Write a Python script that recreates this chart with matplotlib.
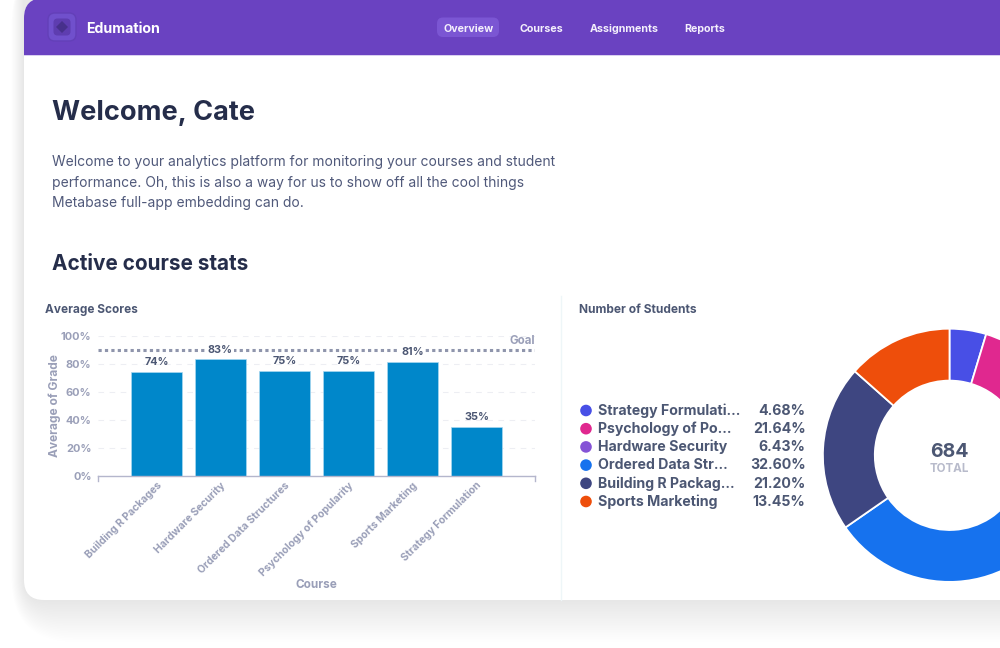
import matplotlib
matplotlib.use('Agg')
import matplotlib.pyplot as plt
from matplotlib.patches import FancyBboxPatch, Rectangle, Circle, RegularPolygon

plt.rcParams['font.family'] = ['Inter', 'DejaVu Sans']

# Bar chart
courses = ['Building R Packages', 'Hardware Security', 'Ordered Data Structures',
           'Psychology of Popularity', 'Sports Marketing', 'Strategy Formulation']
scores = [74, 83, 75, 75, 81, 35]
y_ticks = [0, 20, 40, 60, 80, 100]
goal = 90

# Donut chart
legend_names = ['Strategy Formulati...', 'Psychology of Po...', 'Hardware Security',
                'Ordered Data Str...', 'Building R Packag...', 'Sports Marketing']
legend_pcts = ['4.68%', '21.64%', '6.43%', '32.60%', '21.20%', '13.45%']
shares = [4.68, 21.64, 6.43, 32.60, 21.20, 13.45]
donut_colors = ['#484FE6', '#E0288F', '#8553D6', '#1672EE', '#3E4681', '#EE4E0B']

nav_items = ['Overview', 'Courses', 'Assignments', 'Reports']
nav_x = [469, 541.5, 624, 705]
body_lines = ['Welcome to your analytics platform for monitoring your courses and student',
              'performance. Oh, this is also a way for us to show off all the cool things',
              'Metabase full-app embedding can do.']

W, H = 1000, 648
DARK = '#252D4A'
SLATE = '#4C5773'
MUTED = '#9A9FB8'

fig = plt.figure(figsize=(W / 100, H / 100), dpi=100, facecolor='white')

# page layer in pixel coordinates
bg = fig.add_axes([0, 0, 1, 1])
bg.set_xlim(0, W)
bg.set_ylim(H, 0)
bg.axis('off')

# soft shadow under the card
for i in range(24):
    grow = 42 - i * 1.75
    bg.add_patch(FancyBboxPatch((24 - grow * 0.3, -40), 1100, 640 + grow,
                                boxstyle='round,pad=0,rounding_size=%f' % (22 + grow),
                                fc='#20253a', ec='none', alpha=0.002))

card = FancyBboxPatch((24, -2), 1100, 602, boxstyle='round,pad=0,rounding_size=20',
                      fc='white', ec='none')
bg.add_patch(card)

# header, cut to the card's rounded corner
header = Rectangle((24, -2), 1100, 57, fc='#6A42C1', ec='none')
bg.add_patch(header)
header.set_clip_path(card)
bg.add_patch(Rectangle((24, 54.6), 976, 1.1, fc='#D9CFF0', ec='none'))

# logo
bg.add_patch(FancyBboxPatch((48, 13), 28, 28, boxstyle='round,pad=0,rounding_size=7',
                            fc='#7050CC', ec='#6340B8', lw=1))
bg.add_patch(FancyBboxPatch((53.5, 18.5), 17, 17, boxstyle='round,pad=0,rounding_size=4',
                            fc='#5E3DB0', ec='none'))
bg.add_patch(RegularPolygon((62, 27), 4, radius=6, fc='#47308C', ec='none'))
bg.text(86, 29, 'Edumation', color='white', fontsize=10.2, fontweight='bold', va='center')

bg.add_patch(FancyBboxPatch((437, 17.5), 62, 19.5, boxstyle='round,pad=0,rounding_size=6',
                            fc='#7B56D3', ec='none'))
for name, x in zip(nav_items, nav_x):
    bg.text(x, 28.5, name, color='#F4F0FC', fontsize=7.7, fontweight='bold', ha='center', va='center')

# headings and intro
bg.text(52, 113.5, 'Welcome, Cate', color=DARK, fontsize=19.5, fontweight='bold', va='center')
for i, line in enumerate(body_lines):
    bg.text(52, 162 + i * 20.5, line, color='#50597A', fontsize=10, va='center')
bg.text(52, 264, 'Active course stats', color=DARK, fontsize=14.9, fontweight='bold', va='center')

# card titles and divider
bg.text(45, 310, 'Average Scores', color=SLATE, fontsize=8.5, fontweight='bold', va='center')
bg.text(579, 310, 'Number of Students', color=SLATE, fontsize=8.6, fontweight='bold', va='center')
bg.plot([561, 561], [296, 600], color='#EEF6F8', lw=1)

# legend
for i, (name, pct, c) in enumerate(zip(legend_names, legend_pcts, donut_colors)):
    y = 410.5 + i * 18.2
    bg.add_patch(Circle((586, y), 5.8, fc=c, ec='none'))
    bg.text(598.5, y + 0.3, name, color=SLATE, fontsize=10.2, fontweight='bold', va='center')
    bg.text(805.5, y + 0.3, pct, color=SLATE, fontsize=10.2, fontweight='bold', va='center', ha='right')

# bar chart
left, right, top, bottom = 98, 535, 335.5, 476
ax = fig.add_axes([left / W, 1 - bottom / H, (right - left) / W, (bottom - top) / H])
ax.patch.set_alpha(0)
positions = range(len(courses))
ax.bar(positions, scores, width=0.79, color='#0087CA', edgecolor='#A8D8F0', linewidth=0.5, zorder=2)
x_lo, x_hi = -0.914, 5.914
ax.set_xlim(x_lo, x_hi)
ax.set_ylim(0, 100)
ax.set_yticks(y_ticks)
ax.set_yticklabels(['%d%%' % t for t in y_ticks], color=MUTED, fontsize=7.9, fontweight='bold')
ax.set_xticks(list(positions))
ax.set_xticklabels(courses, rotation=45, ha='right', rotation_mode='anchor',
                   color=MUTED, fontsize=7.5, fontweight='bold')
ax.tick_params(axis='y', length=0, pad=4.6)
ax.tick_params(axis='x', length=0, pad=3)
ax.grid(axis='y', color='#EDEEF3', ls=(0, (5, 5)), lw=0.8, zorder=0)
for side in ['top', 'right', 'left']:
    ax.spines[side].set_visible(False)
ax.spines['bottom'].set_color('#B4B6CC')
ax.spines['bottom'].set_linewidth(1)
ax.plot([x_lo, x_lo], [0, -3.5], color='#B4B6CC', lw=1, clip_on=False)
ax.plot([x_hi, x_hi], [0, -3.5], color='#B4B6CC', lw=1, clip_on=False)
ax.axhline(goal, color='#8F95AC', lw=2.2, ls=(0, (1.05, 1.05)), zorder=3)
ax.text(x_hi, goal + 2, 'Goal', color=MUTED, fontsize=8.3, fontweight='bold', ha='right', va='bottom')
for x, s in zip(positions, scores):
    ax.text(x, s + 3.4, '%d%%' % s, color=SLATE, fontsize=7.8, fontweight='bold', ha='center', va='bottom',
            zorder=4, bbox=dict(fc='white', ec='none', pad=0.6) if s > 80 else None)
ax.set_ylabel('Average of Grade', color=MUTED, fontsize=8.6, fontweight='bold', labelpad=0)
ax.set_xlabel('Course', color=MUTED, fontsize=8.5, fontweight='bold')
ax.xaxis.set_label_coords(0.5, -0.73)

# donut, it runs off the right edge like the original
cx, cy, r = 949.5, 455.3, 126.6
dn = fig.add_axes([(cx - r) / W, 1 - (cy + r) / H, 2 * r / W, 2 * r / H])
dn.pie(shares, colors=donut_colors, startangle=90, counterclock=False, radius=1,
       wedgeprops=dict(width=0.41, edgecolor='white', linewidth=1.3))
dn.set_xlim(-1, 1)
dn.set_ylim(-1, 1)
dn.text(0, 0.03, '684', color=SLATE, fontsize=14, fontweight='bold', ha='center', va='center')
dn.text(0, -0.105, 'TOTAL', color='#B8BBCB', fontsize=8.4, fontweight='bold', ha='center', va='center')

fig.savefig('out.png', dpi=100)
